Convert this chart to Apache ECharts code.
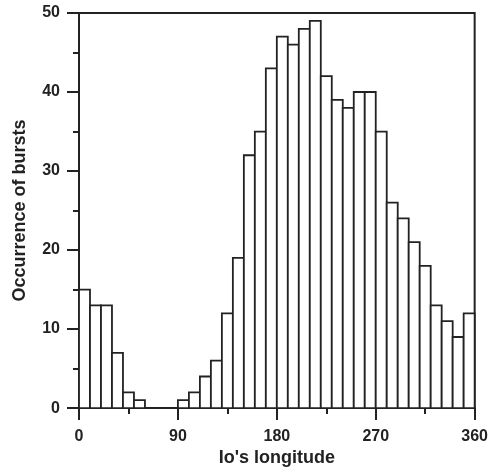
<!DOCTYPE html>
<html>
<head>
<meta charset="utf-8">
<script src="https://cdn.jsdelivr.net/npm/echarts@6/dist/echarts.min.js"></script>
<style>
html,body{margin:0;padding:0;background:#fff;}
#chart{width:491px;height:472px;}
</style>
</head>
<body>
<div id="chart"></div>
<script>
// Histogram of burst occurrences vs Io's longitude (10-degree bins)
const binWidth = 10;
const counts = [15,13,13,7,2,1,0,0,0,1,2,4,6,12,19,32,35,43,47,46,48,49,42,39,38,40,40,35,26,24,21,18,13,11,9,12];
const xTicks = [0, 90, 180, 270, 360];
const yTicks = [0, 10, 20, 30, 40, 50];
const xName = "Io's longitude";
const yName = "Occurrence of bursts";

const data = counts.map((c, i) => [i * binWidth, (i + 1) * binWidth, c]);

const font = 'Liberation Sans, Arial, sans-serif';
const ink = '#222';

const chart = echarts.init(document.getElementById('chart'), null, {renderer: 'canvas'});
chart.setOption({
  animation: false,
  backgroundColor: '#fff',
  grid: {left: 79, right: 14, top: 13, bottom: 61, show: true, borderColor: ink, borderWidth: 2, backgroundColor: 'transparent'},
  xAxis: {
    type: 'value', min: xTicks[0], max: xTicks[xTicks.length - 1], interval: 90,
    name: xName, nameLocation: 'middle', nameGap: 36,
    nameTextStyle: {fontFamily: font, fontWeight: 'bold', fontSize: 18, color: ink},
    axisLine: {show: true, lineStyle: {color: ink, width: 2}},
    axisTick: {show: true, length: 12, lineStyle: {color: ink, width: 2}},
    minorTick: {show: true, splitNumber: 2, length: 6, lineStyle: {color: ink, width: 2}},
    splitLine: {show: false},
    axisLabel: {margin: 20, fontFamily: font, fontWeight: 'bold', fontSize: 16, color: ink}
  },
  yAxis: {
    type: 'value', min: yTicks[0], max: yTicks[yTicks.length - 1], interval: 10,
    name: yName, nameLocation: 'middle', nameGap: 50,
    nameTextStyle: {fontFamily: font, fontWeight: 'bold', fontSize: 18, color: ink},
    axisLine: {show: true, lineStyle: {color: ink, width: 2}},
    axisTick: {show: true, length: 12, lineStyle: {color: ink, width: 2}},
    minorTick: {show: true, splitNumber: 2, length: 6, lineStyle: {color: ink, width: 2}},
    splitLine: {show: false},
    axisLabel: {margin: 19, fontFamily: font, fontWeight: 'bold', fontSize: 16, color: ink}
  },
  series: [{
    type: 'custom',
    data: data,
    encode: {x: [0, 1], y: 2},
    renderItem: function (params, api) {
      const p0 = api.coord([api.value(0), api.value(2)]);
      const p1 = api.coord([api.value(1), 0]);
      return {
        type: 'rect',
        shape: {x: p0[0], y: p0[1], width: p1[0] - p0[0], height: p1[1] - p0[1]},
        style: {fill: '#fff', stroke: ink, lineWidth: 1.8}
      };
    }
  }]
});
</script>
</body>
</html>
